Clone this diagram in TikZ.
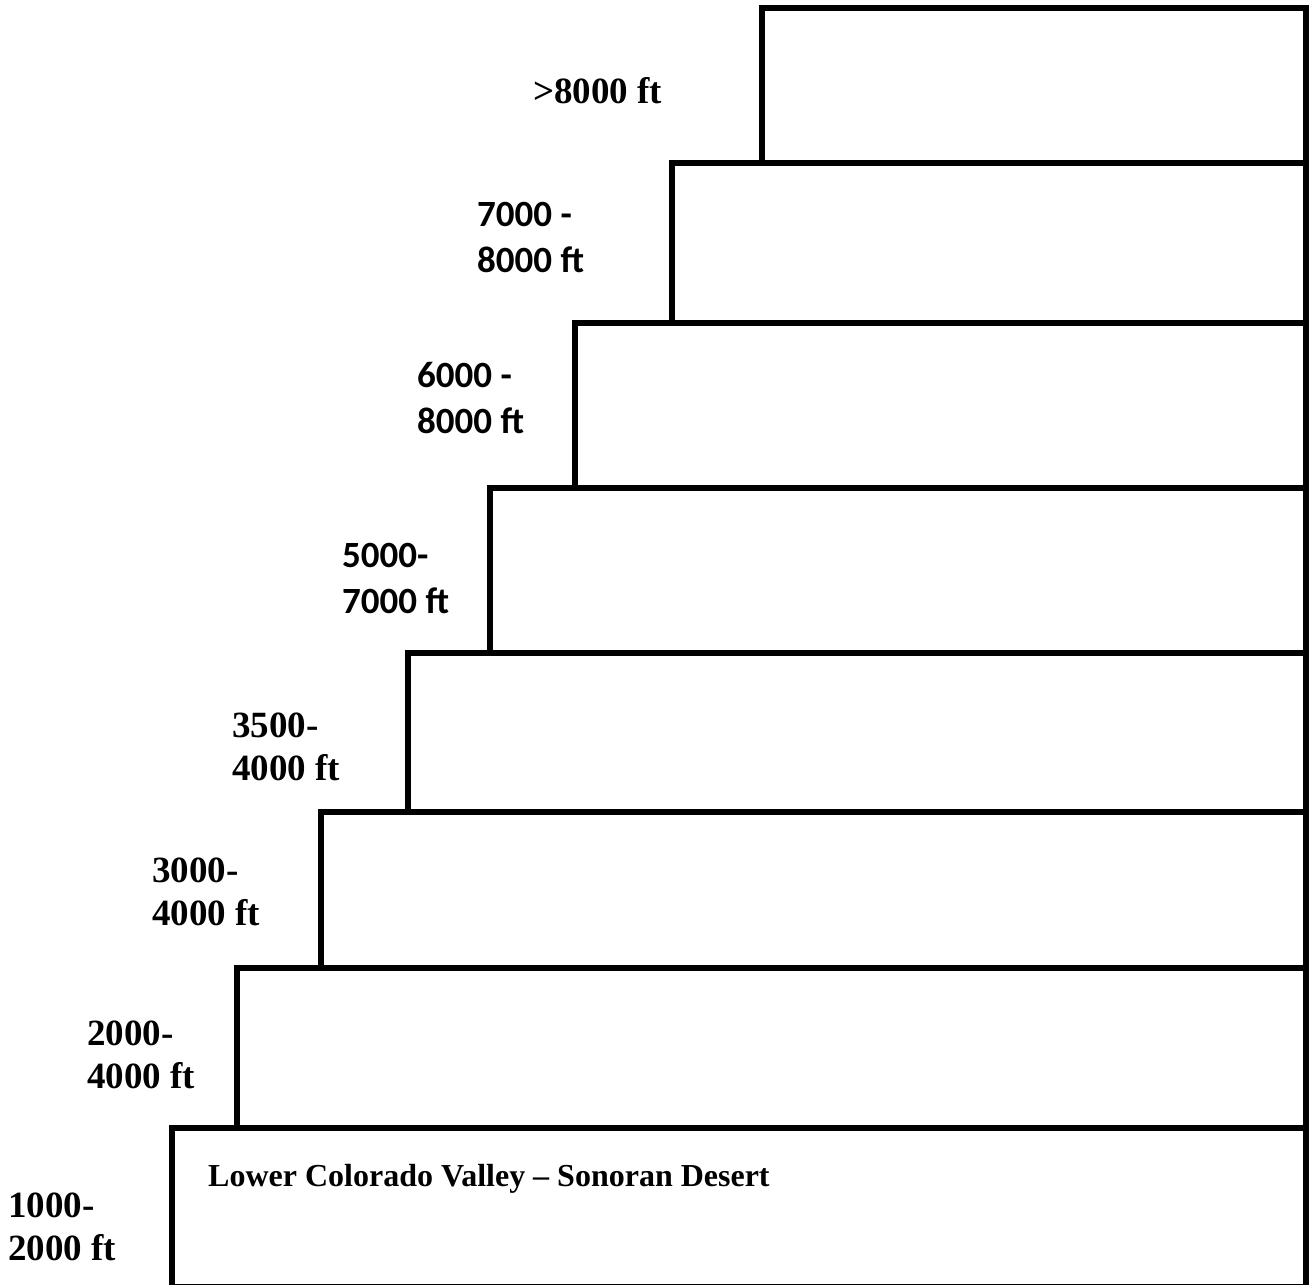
\documentclass[tikz,border=0pt]{standalone}
\usepackage{fontspec}
\setmainfont{Liberation Serif}
\newfontfamily\calibfont{Carlito}
\begin{document}
\begin{tikzpicture}[x=1pt,y=-1pt,
  tier/.style={draw=black, line width=5.2pt, anchor=north west, inner sep=0pt, outer sep=0pt},
  slab/.style={anchor=base west, inner sep=0pt, align=left, font=\bfseries\fontsize{37}{43}\selectfont},
  clab/.style={anchor=base west, inner sep=0pt, align=left, font=\calibfont\bfseries\fontsize{37}{46}\selectfont},
  zlab/.style={anchor=base west, inner sep=0pt, font=\bfseries\fontsize{32}{38}\selectfont}]
\useasboundingbox (0,0) rectangle (1310,1285);
% steps
\node[tier, minimum width=1134pt, minimum height=159pt] (b1) at (172,1128) {};
\node[tier, minimum width=1069pt, minimum height=160pt] (b2) at (237,968) {};
\node[tier, minimum width=985pt, minimum height=156pt] (b3) at (321,812) {};
\node[tier, minimum width=898pt, minimum height=159pt] (b4) at (408,653) {};
\node[tier, minimum width=816pt, minimum height=165pt] (b5) at (490,488) {};
\node[tier, minimum width=731pt, minimum height=165pt] (b6) at (575,323) {};
\node[tier, minimum width=634pt, minimum height=160pt] (b7) at (672,163) {};
\node[tier, minimum width=544pt, minimum height=155pt] (b8) at (762,8) {};
% labels (anchor = baseline of the last line)
\node[slab] (l8) at (533,103) {>8000 ft};
\node[clab] (l7) at (477,272) {7000 -\\8000 ft};
\node[clab] (l6) at (417,433) {6000 -\\8000 ft};
\node[clab] (l5) at (342,613) {5000-\\7000 ft};
\node[slab] (l4) at (232,780) {3500-\\4000 ft};
\node[slab] (l3) at (152,925) {3000-\\4000 ft};
\node[slab] (l2) at (87,1088) {2000-\\4000 ft};
\node[slab] (l1) at (8,1260) {1000-\\2000 ft};
\node[zlab] (z1) at (208,1186) {Lower Colorado Valley – Sonoran Desert};
\end{tikzpicture}
\end{document}
